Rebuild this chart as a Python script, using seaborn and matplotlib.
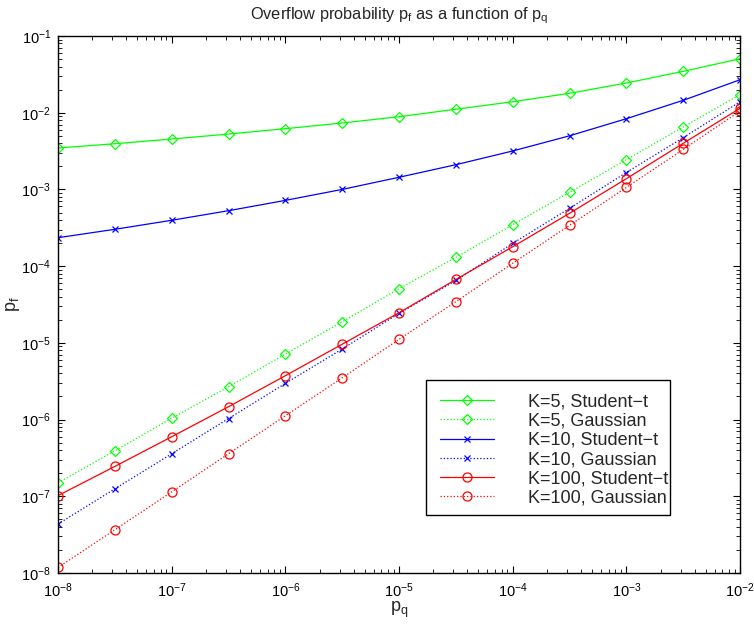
import numpy as np
import pandas as pd
import matplotlib
matplotlib.use("Agg")
import matplotlib.pyplot as plt
from matplotlib.patches import Rectangle
import seaborn as sns

# Quantile probability p_q (x axis), half-decade steps
p_q = [1e-8, 10**-7.5, 1e-7, 10**-6.5, 1e-6, 10**-5.5, 1e-5,
       10**-4.5, 1e-4, 10**-3.5, 1e-3, 10**-2.5, 1e-2]

# Overflow probability p_f for each model
k5_student = [3.47e-3, 3.94e-3, 4.54e-3, 5.27e-3, 6.19e-3, 7.34e-3, 8.87e-3,
              1.11e-2, 1.39e-2, 1.79e-2, 2.44e-2, 3.46e-2, 5.05e-2]
k5_gauss = [1.50e-7, 3.92e-7, 1.04e-6, 2.68e-6, 7.14e-6, 1.88e-5, 5.08e-5,
            1.30e-4, 3.47e-4, 9.16e-4, 2.44e-3, 6.52e-3, 1.72e-2]
k10_student = [2.35e-4, 3.02e-4, 3.96e-4, 5.28e-4, 7.20e-4, 1.00e-3, 1.44e-3,
               2.10e-3, 3.17e-3, 5.00e-3, 8.35e-3, 1.45e-2, 2.69e-2]
k10_gauss = [4.35e-8, 1.25e-7, 3.58e-7, 1.03e-6, 2.96e-6, 8.30e-6, 2.42e-5,
             6.50e-5, 1.98e-4, 5.66e-4, 1.66e-3, 4.72e-3, 1.39e-2]
k100_student = [1.02e-7, 2.45e-7, 5.97e-7, 1.47e-6, 3.73e-6, 9.60e-6, 2.47e-5,
                6.70e-5, 1.79e-4, 4.88e-4, 1.38e-3, 3.99e-3, 1.14e-2]
k100_gauss = [1.18e-8, 3.66e-8, 1.14e-7, 3.58e-7, 1.12e-6, 3.50e-6, 1.11e-5,
              3.44e-5, 1.09e-4, 3.40e-4, 1.06e-3, 3.32e-3, 1.05e-2]

labels = ["K=5, Student\u2212t", "K=5, Gaussian",
          "K=10, Student\u2212t", "K=10, Gaussian",
          "K=100, Student\u2212t", "K=100, Gaussian"]
series = [k5_student, k5_gauss, k10_student, k10_gauss, k100_student, k100_gauss]
colors = ["#00ff00", "#00ff00", "#0000ff", "#0000ff", "#ff0000", "#ff0000"]
styles = ["-", ":", "-", ":", "-", ":"]
markers = ["D", "D", "x", "x", "o", "o"]
msizes = [5.5, 5.5, 5, 5, 6.5, 6.5]

sns.set_style("ticks")
plt.rcParams["font.family"] = ["Liberation Sans", "DejaVu Sans"]
plt.rcParams["mathtext.fontset"] = "custom"
plt.rcParams["mathtext.rm"] = "Liberation Sans"
plt.rcParams["mathtext.it"] = "Liberation Sans"

W, H = 754, 625
fig = plt.figure(figsize=(W / 100, H / 100), dpi=100)
ax = fig.add_axes([58 / W, 52 / H, 682 / W, 537 / H])

for vals, lab, c, ls, m, ms in zip(series, labels, colors, styles, markers, msizes):
    df = pd.DataFrame({"p_q": p_q, "p_f": vals})
    sns.lineplot(data=df, x="p_q", y="p_f", ax=ax, color=c, linestyle=ls,
                 linewidth=0.9, marker=m, markersize=ms, markerfacecolor="none",
                 markeredgecolor=c, markeredgewidth=0.9, label=lab)

ax.set_xscale("log")
ax.set_yscale("log")
ax.set_xlim(1e-8, 1e-2)
ax.set_ylim(1e-8, 1e-1)

ax.tick_params(which="both", direction="in", top=True, right=True,
               labelsize=10.5, colors="black")
ax.tick_params(axis="x", which="major", pad=6)
ax.tick_params(axis="y", which="major", pad=5)
ax.tick_params(which="major", length=5, width=0.8)
ax.tick_params(which="minor", length=3, width=0.6)
for sp in ax.spines.values():
    sp.set_linewidth(1.0)
    sp.set_color("black")

ax.set_xlabel("p$_\\mathrm{q}$", fontsize=13)
ax.set_ylabel("p$_\\mathrm{f}$", fontsize=13)
ax.xaxis.set_label_coords(0.5, -(600 - 573) / 537)
ax.yaxis.set_label_coords(-(58 - 22) / 682, 0.5)
ax.set_title("Overflow probability p$_\\mathrm{f}$ as a function of p$_\\mathrm{q}$",
             fontsize=11.8, pad=12)

# Legend box with fixed outline; entries drawn on top of it
box = Rectangle((426 / W, 1 - 515 / H), 244 / W, 135 / H,
                transform=fig.transFigure, facecolor="white", edgecolor="black",
                linewidth=1.0, zorder=4, clip_on=False)
ax.add_patch(box)
leg = ax.legend(loc="upper left", bbox_to_anchor=(426 / W, 1 - 380 / H),
                bbox_transform=fig.transFigure, borderaxespad=0,
                fontsize=13, frameon=False, handlelength=3.0,
                handletextpad=1.9, labelspacing=0.12, borderpad=0.75)
leg.set_zorder(5)

fig.savefig("out.png", dpi=100)
